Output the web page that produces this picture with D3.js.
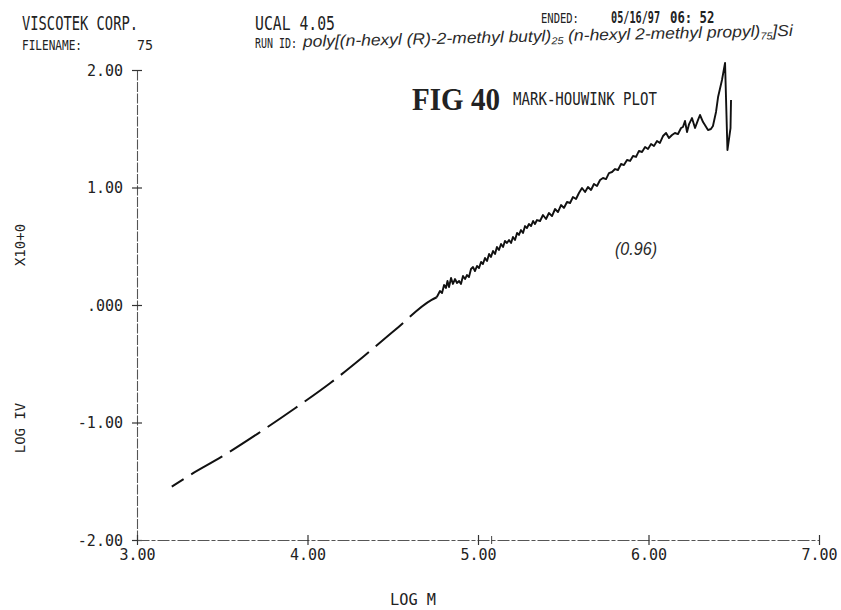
<!DOCTYPE html>
<html>
<head>
<meta charset="utf-8">
<script src="https://cdn.jsdelivr.net/npm/d3@7"></script>
<style>
  html, body { margin: 0; padding: 0; background: #fff; }
  svg { display: block; }
  .plot { font-family: "DejaVu Sans Mono", monospace; fill: #222; }
  .hand { font-family: "Liberation Sans", "DejaVu Sans", sans-serif; font-style: italic; fill: #2a2a2a; }
</style>
</head>
<body>
<script>
// ---- Data ----
const fitLogM  = [3.204, 3.311, 3.497, 3.711, 3.927, 4.132, 4.327, 4.513, 4.728, 4.758];
const fitLogIV = [-1.546, -1.447, -1.291, -1.092, -0.879, -0.666, -0.440, -0.213, 0.043, 0.066];

const dataLogM = [4.758, 4.777, 4.789, 4.801, 4.812, 4.821, 4.830, 4.842, 4.853, 4.865,
  4.877, 4.889, 4.900, 4.912, 4.924, 4.935, 4.947, 4.959, 4.971, 4.982,
  4.994, 5.006, 5.018, 5.029, 5.041, 5.053, 5.065, 5.076, 5.088, 5.100,
  5.111, 5.123, 5.135, 5.147, 5.158, 5.170, 5.182, 5.194, 5.205, 5.217,
  5.229, 5.240, 5.252, 5.264, 5.276, 5.287, 5.299, 5.311, 5.323, 5.334,
  5.346, 5.364, 5.381, 5.399, 5.416, 5.434, 5.452, 5.469, 5.487, 5.504,
  5.522, 5.540, 5.557, 5.575, 5.592, 5.610, 5.628, 5.645, 5.663, 5.680,
  5.698, 5.716, 5.733, 5.751, 5.768, 5.786, 5.804, 5.821, 5.839, 5.856,
  5.874, 5.892, 5.909, 5.927, 5.944, 5.962, 5.980, 5.997, 6.015, 6.032,
  6.050, 6.067, 6.085, 6.103, 6.120, 6.138, 6.155, 6.173, 6.191, 6.202,
  6.214, 6.226, 6.238, 6.255, 6.273, 6.290, 6.302, 6.320, 6.349, 6.366,
  6.378, 6.396, 6.408, 6.431, 6.449, 6.463, 6.481, 6.484];
const dataLogIV = [0.066, 0.119, 0.102, 0.170, 0.145, 0.204, 0.153, 0.230, 0.179, 0.221,
  0.187, 0.204, 0.179, 0.247, 0.221, 0.255, 0.238, 0.306, 0.323, 0.289,
  0.332, 0.315, 0.366, 0.349, 0.400, 0.374, 0.434, 0.409, 0.460, 0.434,
  0.494, 0.468, 0.519, 0.494, 0.545, 0.528, 0.553, 0.528, 0.579, 0.553,
  0.613, 0.596, 0.638, 0.613, 0.672, 0.655, 0.689, 0.672, 0.715, 0.689,
  0.723, 0.715, 0.766, 0.732, 0.783, 0.757, 0.817, 0.791, 0.851, 0.826,
  0.877, 0.868, 0.919, 0.902, 0.953, 0.996, 0.962, 1.004, 0.979, 1.030,
  1.013, 1.064, 1.081, 1.072, 1.123, 1.132, 1.157, 1.149, 1.200, 1.191,
  1.234, 1.226, 1.268, 1.260, 1.311, 1.302, 1.345, 1.328, 1.370, 1.353,
  1.396, 1.379, 1.438, 1.464, 1.421, 1.447, 1.464, 1.455, 1.506, 1.515,
  1.566, 1.472, 1.540, 1.591, 1.506, 1.574, 1.617, 1.557, 1.489, 1.498,
  1.523, 1.643, 1.770, 1.915, 2.060, 1.319, 1.506, 1.745];

const xTicks = [3, 4, 5, 6, 7];
const xTickLabels = ["3.00", "4.00", "5.00", "6.00", "7.00"];
const xExtraMarks = [5.08];
const yTicks = [-2, -1, 0, 1, 2];
const yTickLabels = ["-2.00", "-1.00", ".000", "1.00", "2.00"];

// ---- Layout ----
const W = 841, H = 610;
const svg = d3.select("body").append("svg").attr("width", W).attr("height", H);

const x = d3.scaleLinear().domain([3, 7]).range([137, 819]);
const y = d3.scaleLinear().domain([-2, 2]).range([540, 70]);

const axisColor = "#555";

// Y axis
const yAxis = svg.append("g").attr("transform", `translate(${x(3)},0)`)
  .call(d3.axisLeft(y).tickValues(yTicks).tickSizeOuter(0).tickSizeInner(5)
        .tickPadding(9).tickFormat((d, i) => yTickLabels[i]));
yAxis.select(".domain").attr("stroke", axisColor).attr("stroke-width", 1.1).attr("stroke-dasharray", "10,1.5");
yAxis.selectAll(".tick line").attr("x1", -5).attr("x2", 5).attr("stroke", "#333").attr("stroke-width", 1.2);
yAxis.selectAll(".tick text").attr("class", "plot").style("font-size", "15px")
  .attr("fill", "#222").attr("dy", "0.36em");

// X axis
const xAxis = svg.append("g").attr("transform", `translate(0,${y(-2)})`)
  .call(d3.axisBottom(x).tickValues(xTicks).tickSizeOuter(0).tickSizeInner(5)
        .tickPadding(4).tickFormat((d, i) => xTickLabels[i]));
xAxis.select(".domain").attr("stroke", axisColor).attr("stroke-width", 1.1).attr("stroke-dasharray", "12,2,4,2");
xAxis.selectAll(".tick line").attr("y1", -5).attr("y2", 5).attr("stroke", "#333").attr("stroke-width", 1.2);
xAxis.selectAll(".tick text").attr("class", "plot").style("font-size", "15px").attr("fill", "#222");

xAxis.selectAll(".extra").data(xExtraMarks).enter().append("line")
  .attr("x1", d => x(d)).attr("x2", d => x(d)).attr("y1", -4).attr("y2", 4)
  .attr("stroke", "#444").attr("stroke-width", 1);

// Dashed low-MW part
const line = d3.line().x(d => x(d[0])).y(d => y(d[1]));
svg.append("path")
  .datum(fitLogM.map((m, i) => [m, fitLogIV[i]]))
  .attr("d", line.curve(d3.curveMonotoneX))
  .attr("fill", "none").attr("stroke", "#111").attr("stroke-width", 2)
  .attr("stroke-dasharray", "36,9").attr("stroke-dashoffset", 22);

// Solid noisy measured part
svg.append("path")
  .datum(dataLogM.map((m, i) => [m, dataLogIV[i]]))
  .attr("d", d3.line().x(d => x(d[0])).y(d => y(d[1])))
  .attr("fill", "none").attr("stroke", "#111").attr("stroke-width", 1.9)
  .attr("stroke-linejoin", "round");

// ---- Texts ----
function t(txt, px, py, size, len, opts = {}) {
  const el = svg.append("text").attr("class", opts.cls || "plot")
    .attr("x", px).attr("y", py).style("font-size", size + "px").text(txt);
  if (len) el.attr("textLength", len).attr("lengthAdjust", "spacingAndGlyphs");
  if (opts.anchor) el.attr("text-anchor", opts.anchor);
  if (opts.weight) el.style("font-weight", opts.weight);
  if (opts.family) el.style("font-family", opts.family);
  if (opts.rotate) el.attr("transform", `rotate(${opts.rotate},${px},${py})`);
  return el;
}
// horizontally squeezed text via transform (so its box is the real drawn box)
function tq(txt, px, py, size, sx, opts = {}) {
  const el = svg.append("text").attr("class", "plot")
    .attr("transform", `translate(${px},${py}) scale(${sx},1)`)
    .style("font-size", size + "px").text(txt);
  if (opts.weight) el.style("font-weight", opts.weight);
  return el;
}

t("VISCOTEK CORP.", 22, 30, 19, 116);
t("FILENAME:", 22, 50, 14, 60);
t("75", 137, 50, 14, 16);
t("UCAL 4.05", 255, 30, 19, 80);
t("RUN ID:", 255, 48, 14, 42);
tq("ENDED:", 541, 23, 14, 0.75);
tq("05/16/97", 611, 23, 15, 0.68, { weight: "bold" });
tq("06: 52", 670, 23, 15, 0.82, { weight: "bold" });

// Handwritten run id
const hw = svg.append("text").attr("class", "hand")
  .attr("x", 303).attr("y", 47).style("font-size", "16px")
  .attr("transform", "rotate(-1.3,303,47)");
hw.append("tspan").text("poly[(n-hexyl (R)-2-methyl butyl)");
hw.append("tspan").attr("dy", 3).style("font-size", "10px").text("25");
hw.append("tspan").attr("dy", -3).text(" (n-hexyl  2-methyl propyl)");
hw.append("tspan").attr("dy", 3).style("font-size", "10px").text("75");
hw.append("tspan").attr("dy", -3).text("]Si");
hw.attr("textLength", 490).attr("lengthAdjust", "spacingAndGlyphs");

t("FIG 40", 412, 110, 32, 88, { family: "'Liberation Serif', 'DejaVu Serif', serif", weight: "bold" });
t("MARK-HOUWINK PLOT", 513, 105, 18, 144);

t("(0.96)", 615, 255, 18, 42, { cls: "hand" });

// Axis titles
t("X10+0", 25, 245, 14, null, { anchor: "middle", rotate: -90 });
t("LOG IV", 25, 428, 14, null, { anchor: "middle", rotate: -90 });
t("LOG M", 413, 605, 15, 46, { anchor: "middle" });
</script>
</body>
</html>
